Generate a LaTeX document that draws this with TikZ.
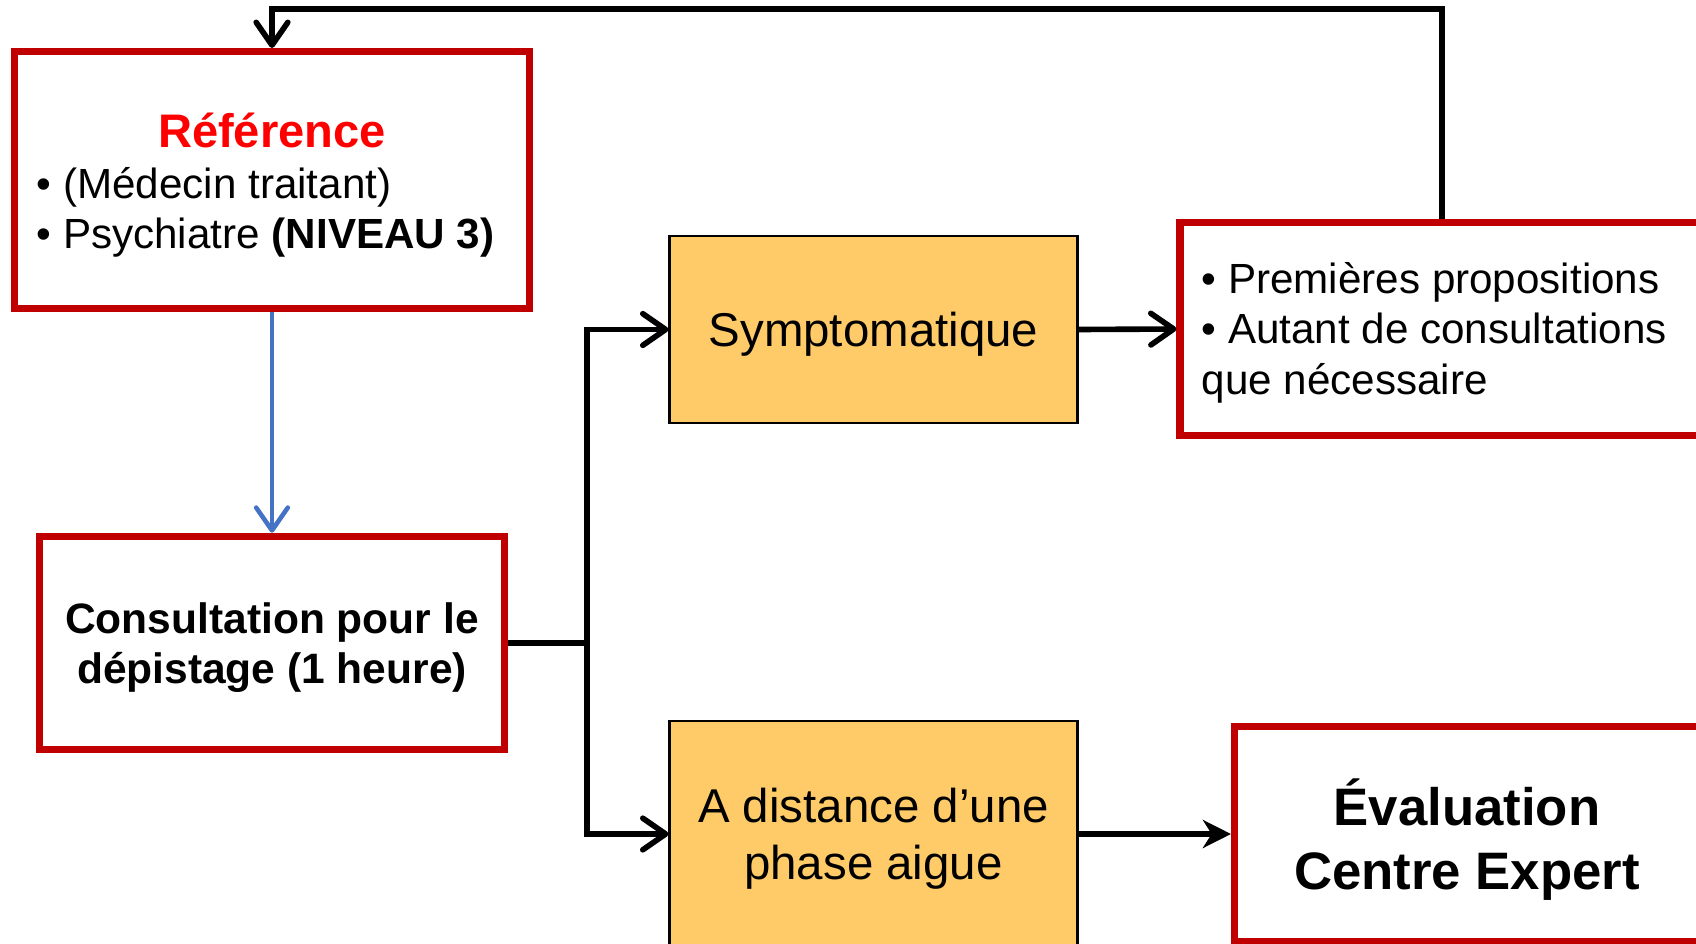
\documentclass[tikz,border=0pt]{standalone}
\usepackage{fontspec}
\setmainfont{Liberation Sans}
\usetikzlibrary{arrows.meta}
\definecolor{boxred}{RGB}{192,0,0}
\definecolor{titlered}{RGB}{255,0,0}
\definecolor{boxorange}{RGB}{254,203,104}
\definecolor{linkblue}{RGB}{68,114,196}
\begin{document}
\begin{tikzpicture}[redbox/.style={draw=boxred,fill=white,line width=2pt,inner sep=0pt},
	orangebox/.style={draw=black,line width=0.6pt,fill=boxorange,minimum width=4.08cm,
		inner sep=0pt,align=center,text depth=0pt,font=\fontsize{13.5}{16.3}\selectfont},
	txt/.style={inner sep=0pt,font=\fontsize{12}{14.5}\selectfont},
	link/.style={line width=1.6pt},
	conn/.style={link,-{Straight Barb[length=6.5pt,width=9pt,round]}}]
\useasboundingbox (0,0) rectangle (16.96,-9.44);
\clip (0,0) rectangle (16.96,-9.44);
\node[redbox,minimum width=5.145cm,minimum height=2.57cm] (ref) at (2.72,-1.80) {};
\node[txt,anchor=base,text=titlered,font=\fontsize{13.4}{16}\selectfont\bfseries] (refTitle) at (2.72,-1.47) {Référence};
\node[txt,anchor=base west] (refList) at (0.36,-1.98) {\begin{tabular}[t]{@{}l@{}}• (Médecin traitant)\\• Psychiatre \textbf{(NIVEAU 3)}\end{tabular}};
\node[redbox,minimum width=4.655cm,minimum height=2.135cm,align=center,text depth=0pt,
	font=\fontsize{12.1}{14.3}\selectfont\bfseries] (cons) at (2.72,-6.43) {Consultation pour le\\dépistage (1 heure)};
\node[orangebox,minimum height=1.87cm] (sym) at (8.735,-3.295) {Symptomatique};
\node[orangebox,minimum height=2.26cm] (dist) at (8.735,-8.34) {A distance d’une\\phase aigue};
\node[redbox,minimum width=5.24cm,minimum height=2.13cm] (prop) at (14.42,-3.29) {};
\node[txt,anchor=base west] (propList) at (12.01,-2.93) {\begin{tabular}[t]{@{}l@{}}• Premières propositions\\• Autant de consultations\\que nécessaire\end{tabular}};
\node[redbox,minimum width=4.65cm,minimum height=2.15cm,align=center,text depth=0pt,
	font=\fontsize{15}{18.2}\selectfont\bfseries] (eval) at (14.67,-8.34) {Évaluation\\Centre Expert};
\coordinate (loopTop) at (ref.north |- 0,-0.09);
\coordinate (split) at (cons.east -| 5.87,0);
\draw[conn] (prop.north) |- (loopTop) -- (ref.north);
\draw[conn,draw=linkblue,line width=1.3pt] (ref.south) -- (cons.north);
\draw[link] (cons.east) -- (split);
\draw[conn] (split) |- (sym.west);
\draw[conn] (split) |- (dist.west);
\draw[conn] (sym.east) -- (prop.west);
\draw[link,-{Stealth[length=8pt,width=8pt,inset=2.5pt]}] (dist.east) -- (eval.west);
\end{tikzpicture}
\end{document}
